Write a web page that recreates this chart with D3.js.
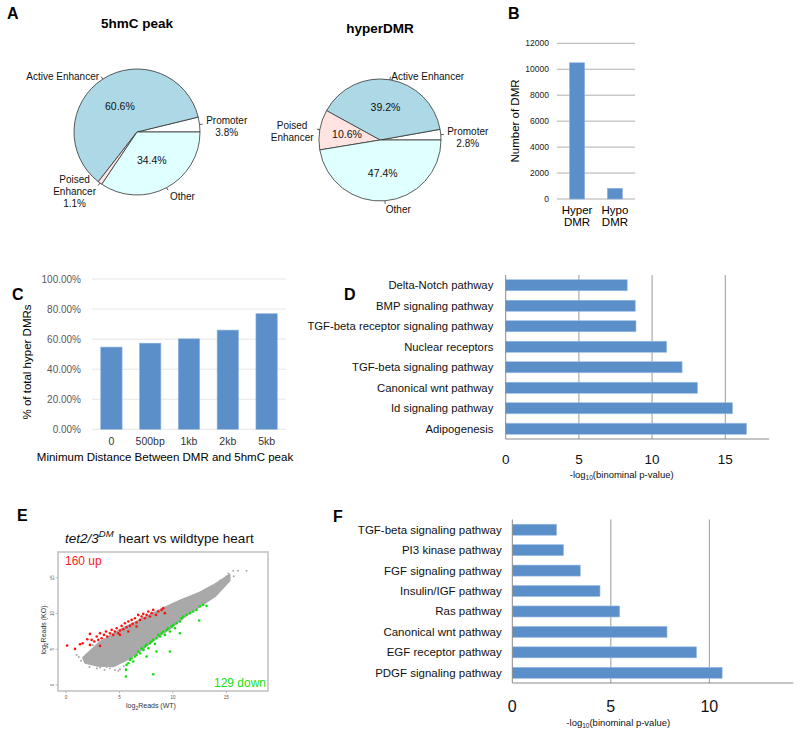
<!DOCTYPE html>
<html><head><meta charset="utf-8">
<script src="https://cdn.jsdelivr.net/npm/d3@7"></script>
<style>body{margin:0;background:#fff}svg{display:block}</style>
</head><body>
<script>
// ---------------- DATA ----------------
const pieCategories = ["Promoter","Active Enhancer","Poised Enhancer","Other"];
const pie1Values = [3.8, 60.6, 1.1, 34.4];
const pie2Values = [2.8, 39.2, 10.6, 47.4];
const pie1OuterLabels = ["Promoter\n3.8%","Active Enhancer","Poised\nEnhancer\n1.1%","Other"];
const pie2OuterLabels = ["Promoter\n2.8%","Active Enhancer","Poised\nEnhancer","Other"];
const pie1InnerLabels = ["","60.6%","","34.4%"];
const pie2InnerLabels = ["","39.2%","10.6%","47.4%"];

const bCategories = ["Hyper\nDMR","Hypo\nDMR"];
const bValues = [10500, 820];
const bTicks = [0,2000,4000,6000,8000,10000,12000];

const cCategories = ["0","500bp","1kb","2kb","5kb"];
const cValues = [54.7, 57.3, 60.2, 66.0, 76.9];
const cTicks = [0,20,40,60,80,100];

const dCategories = ["Delta-Notch pathway","BMP signaling pathway","TGF-beta receptor signaling pathway","Nuclear receptors","TGF-beta signaling pathway","Canonical wnt pathway","Id signaling pathway","Adipogenesis"];
const dValues = [8.3, 8.85, 8.9, 11.0, 12.05, 13.1, 15.5, 16.45];
const dTicks = [0,5,10,15];

const fCategories = ["TGF-beta signaling pathway","PI3 kinase pathway","FGF signaling pathway","Insulin/IGF pathway","Ras pathway","Canonical wnt pathway","EGF receptor pathway","PDGF signaling pathway"];
const fValues = [2.25, 2.6, 3.45, 4.45, 5.45, 7.85, 9.35, 10.65];
const fTicks = [0,5,10];

const eXLim = [-0.75, 18.9];
const eYLim = [-0.85, 18.6];
const eTicks = [0,5,10,15];
// dense grey cloud outline (log2 WT, log2 KO)
const eCloud = [[1.6,3.8],[3.18,6.0],[5.05,7.7],[6.92,9.1],[8.79,10.5],[10.65,11.8],[12.5,12.9],[13.8,13.95],[15.3,15.4],
  [15.3,14.6],[14.0,12.5],[12.5,11.0],[11.3,9.8],[10.0,8.2],[8.5,6.6],[6.92,4.8],[5.67,3.5],[4.42,2.6],[2.87,2.7],[1.8,3.1]];
const eGrey = [[1.87,3.18],[2.4,2.94],[3.18,2.45],[4.11,2.3],[4.58,2.1],[5.05,2.2],[3.8,2.5],[15.64,15.97],[16.1,15.97],[16.89,15.97],
  [15.0,15.17],[14.7,14.47],[13.46,13.3],[13.93,13.07],[1.4,3.4],[4.9,2.0],[14.2,14.0],[15.2,15.6],[1.2,3.9],[2.2,2.5],
  [2.9,2.3],[3.6,2.1],[5.4,2.6],[6.0,3.6],[6.5,4.2],[1.0,4.2],[2.5,5.6],[14.5,13.5],[14.9,14.1],[13.2,12.6],[12.9,13.0],
  [15.7,15.2],[14.4,14.6],[11.9,12.4],[7.3,5.0],[5.6,2.2]];
const eUp = [[0.1,5.5],[0.84,5.04],[1.31,5.7],[1.56,5.84],[1.99,6.4],[2.24,7.14],[2.4,6.3],[2.65,6.07],[2.87,6.77],[3.02,6.3],
  [3.18,7.24],[3.33,6.54],[3.55,7.0],[3.74,7.47],[3.86,6.77],[4.11,7.24],[4.27,7.7],[4.42,7.0],[4.58,7.47],[4.74,7.94],
  [4.89,7.24],[5.05,7.61],[5.2,8.26],[5.36,7.8],[5.51,8.64],[5.67,8.08],[5.83,8.87],[5.98,8.26],[6.14,9.1],[6.23,8.54],
  [6.45,9.34],[6.6,8.73],[6.76,9.8],[6.92,9.1],[7.07,9.57],[7.23,9.94],[7.38,9.34],[7.54,9.8],[7.7,10.27],[7.85,9.57],
  [8.01,10.04],[8.16,10.5],[8.41,9.8],[8.63,10.27],[8.94,10.5],[9.1,10.74],[9.25,10.04],[6.6,8.17],[5.83,7.47],[5.05,7.0],
  [3.18,5.46],[2.24,5.6]];
const eDown = [[5.61,2.1],[5.83,3.04],[5.98,3.5],[6.14,3.73],[6.29,3.27],[6.45,3.97],[6.6,4.2],[6.76,4.67],[6.92,4.43],[7.07,5.13],
  [7.23,4.9],[7.38,5.37],[7.54,5.6],[7.7,5.13],[7.85,5.84],[8.01,6.07],[8.16,6.3],[8.32,5.74],[8.47,6.54],[8.63,7.0],
  [8.79,6.77],[8.94,7.24],[9.1,7.47],[9.25,7.0],[9.41,7.7],[9.56,7.94],[9.72,7.47],[9.88,8.17],[10.03,8.4],[10.19,7.94],
  [10.34,8.64],[10.65,8.87],[10.81,9.34],[10.97,9.57],[11.28,9.8],[11.59,10.04],[11.9,10.27],[12.21,10.5],[12.52,10.97],[12.83,11.2],
  [13.15,11.06],[12.46,9.01],[10.65,7.24],[9.72,4.67],[8.16,1.49],[5.61,1.17],[5.67,2.8],[7.54,3.97],[8.47,4.67]];

// ---------------- DRAWING ----------------
const FONT = "'Liberation Sans', Arial, Helvetica, sans-serif";
const BLUE = "#5b8fca";
const pieColors = ["#ffffff","#add8e6","#ffe4e1","#e0ffff"];
const svg = d3.select("body").append("svg").attr("width",800).attr("height",732).style("font-family",FONT);
svg.append("rect").attr("width",800).attr("height",732).attr("fill","#fff");

// panel letters
[["A",7,19],["B",508,19],["C",12,300],["D",344,300],["E",17,521],["F",333,522]].forEach(p=>{
  svg.append("text").attr("x",p[1]).attr("y",p[2]).attr("font-size",16).attr("font-weight","bold").text(p[0]);
});

// ---- Pies ----
function drawPie(cx, cy, r, values, outer, inner, innerFrac, title, titleY){
  const g = svg.append("g").attr("transform",`translate(${cx},${cy})`);
  const pie = d3.pie().sort(null).value(d=>d).startAngle(Math.PI/2).endAngle(Math.PI/2-2*Math.PI);
  const arcs = pie(values);
  const arc = d3.arc().innerRadius(0).outerRadius(r);
  g.selectAll("path").data(arcs).join("path").attr("d",arc)
    .attr("fill",(d,i)=>pieColors[i]).attr("stroke","#333").attr("stroke-width",0.8);
  arcs.forEach((a,i)=>{
    const m=(a.startAngle+a.endAngle)/2, ux=Math.sin(m), uy=-Math.cos(m);
    g.append("line").attr("x1",ux*r).attr("y1",uy*r).attr("x2",ux*r*1.05).attr("y2",uy*r*1.05)
      .attr("stroke","#333").attr("stroke-width",0.8);
    const lines = outer[i].split("\n");
    const t = g.append("text").attr("font-size",10).attr("text-anchor","middle").attr("fill","#111");
    lines.forEach((ln,j)=>t.append("tspan").attr("x",0).attr("y",(j-(lines.length-1)/2)*12)
      .attr("dominant-baseline","central").text(ln));
    const w = t.node().getBBox().width;
    t.attr("transform",`translate(${ux*r*1.1+(ux>=0?1:-1)*w/2},${uy*r*1.1+3})`);
    if(inner[i]) g.append("text").attr("x",ux*r*innerFrac).attr("y",uy*r*innerFrac)
      .attr("text-anchor","middle").attr("dominant-baseline","central").attr("font-size",10.5).attr("fill","#111").text(inner[i]);
  });
  svg.append("text").attr("x",cx).attr("y",titleY).attr("text-anchor","middle")
    .attr("font-weight","bold").attr("font-size",13.5).text(title);
}
drawPie(137,132,63,pie1Values,pie1OuterLabels,pie1InnerLabels,0.5,"5hmC peak",28);
drawPie(380,140,61,pie2Values,pie2OuterLabels,pie2InnerLabels,0.55,"hyperDMR",33);

// ---- B ----
(function(){
  const x = d3.scaleBand().domain(bCategories).range([557,635]).paddingInner(0.6).paddingOuter(0.33);
  const y = d3.scaleLinear().domain([0,12000]).range([199,43.3]);
  const g = svg.append("g");
  g.selectAll("line.grid").data(bTicks).join("line").attr("x1",557).attr("x2",635)
    .attr("y1",d=>y(d)).attr("y2",d=>y(d)).attr("stroke","#a6a6a6").attr("stroke-width",0.9);
  g.selectAll("text.tick").data(bTicks).join("text").attr("x",549).attr("y",d=>y(d))
    .attr("text-anchor","end").attr("dominant-baseline","central").attr("font-size",8.5).attr("fill","#222").text(d=>d);
  g.selectAll("rect").data(bCategories).join("rect").attr("x",d=>x(d)).attr("width",x.bandwidth())
    .attr("y",(d,i)=>y(bValues[i])).attr("height",(d,i)=>y(0)-y(bValues[i])).attr("fill",BLUE)
    .attr("stroke","#8fb4e0").attr("stroke-width",0.6);
  bCategories.forEach(c=>{
    c.split("\n").forEach((ln,j)=>g.append("text").attr("x",x(c)+x.bandwidth()/2).attr("y",210+j*11.7)
      .attr("text-anchor","middle").attr("dominant-baseline","central").attr("font-size",11.5).text(ln));
  });
  g.append("text").attr("transform","translate(515,121) rotate(-90)").attr("text-anchor","middle")
    .attr("dominant-baseline","central").attr("font-size",11.5).text("Number of DMR");
})();

// ---- C ----
(function(){
  const x = d3.scaleBand().domain(cCategories).range([92,286]).paddingInner(0.45).paddingOuter(0.225);
  const y = d3.scaleLinear().domain([0,100]).range([429.3,279]);
  const g = svg.append("g");
  g.selectAll("line.grid").data(cTicks).join("line").attr("x1",92).attr("x2",286)
    .attr("y1",d=>y(d)).attr("y2",d=>y(d)).attr("stroke","#e6e6e6").attr("stroke-width",1);
  g.selectAll("text.tick").data(cTicks).join("text").attr("x",81).attr("y",d=>y(d))
    .attr("text-anchor","end").attr("dominant-baseline","central").attr("font-size",10).attr("fill","#595959")
    .text(d=>d.toFixed(2)+"%");
  g.selectAll("rect").data(cCategories).join("rect").attr("x",d=>x(d)).attr("width",x.bandwidth())
    .attr("y",(d,i)=>y(cValues[i])).attr("height",(d,i)=>y(0)-y(cValues[i])).attr("fill",BLUE)
    .attr("stroke","#8fb4e0").attr("stroke-width",0.6);
  g.selectAll("text.cat").data(cCategories).join("text").attr("x",d=>x(d)+x.bandwidth()/2).attr("y",440.7)
    .attr("text-anchor","middle").attr("dominant-baseline","central").attr("font-size",10.5).attr("fill","#333").text(d=>d);
  g.append("text").attr("x",165).attr("y",456.7).attr("text-anchor","middle").attr("dominant-baseline","central")
    .attr("font-size",11.5).text("Minimum Distance Between DMR and 5hmC peak");
  g.append("text").attr("transform","translate(27,362) rotate(-90)").attr("text-anchor","middle")
    .attr("dominant-baseline","central").attr("font-size",11.5).text("% of total hyper DMRs");
})();

// ---- D & F ----
function drawHBar(cats, vals, xMax, xr, yr, ticks, tickFs, tickY, labFs, labGap, titleX, titleY){
  const x = d3.scaleLinear().domain([0,xMax]).range(xr);
  const y = d3.scaleBand().domain(cats).range(yr).paddingInner(0.46).paddingOuter(0.23);
  const g = svg.append("g");
  g.selectAll("line.grid").data(ticks.filter(t=>t>0)).join("line").attr("x1",d=>x(d)).attr("x2",d=>x(d))
    .attr("y1",yr[0]).attr("y2",yr[1]).attr("stroke","#9a9a9a").attr("stroke-width",1);
  g.selectAll("rect").data(cats).join("rect").attr("x",x(0)).attr("y",d=>y(d))
    .attr("width",(d,i)=>x(vals[i])-x(0)).attr("height",y.bandwidth()).attr("fill",BLUE)
    .attr("stroke","#9dbfe6").attr("stroke-width",0.6);
  g.append("line").attr("x1",x(0)).attr("x2",x(0)).attr("y1",yr[0]).attr("y2",yr[1]).attr("stroke","#8a8a8a");
  g.append("line").attr("x1",xr[0]).attr("x2",xr[1]).attr("y1",yr[1]).attr("y2",yr[1]).attr("stroke","#8a8a8a");
  g.selectAll("text.cat").data(cats).join("text").attr("x",x(0)-labGap).attr("y",d=>y(d)+y.bandwidth()/2)
    .attr("text-anchor","end").attr("dominant-baseline","central").attr("font-size",labFs).attr("fill","#111").text(d=>d);
  g.selectAll("text.tick").data(ticks).join("text").attr("x",d=>x(d)).attr("y",tickY)
    .attr("text-anchor","middle").attr("dominant-baseline","central").attr("font-size",tickFs).attr("fill","#111").text(d=>d);
  const t = g.append("text").attr("x",titleX).attr("y",titleY).attr("text-anchor","middle").attr("font-size",9.5).attr("fill","#111");
  t.append("tspan").text("-log");
  t.append("tspan").attr("font-size",6.5).attr("dy",2).text("10");
  t.append("tspan").attr("dy",-2).text("(binominal p-value)");
}
drawHBar(dCategories,dValues,18,[505.7,769.2],[275,439],dTicks,13.5,459.5,11.3,12.4,621.7,477.5);
drawHBar(fCategories,fValues,14.26,[512.3,793.3],[519.5,683],fTicks,16,706.5,11.5,10.6,618.3,726);

// ---- E ----
(function(){
  const x = d3.scaleLinear().domain(eXLim).range([58,268]);
  const y = d3.scaleLinear().domain(eYLim).range([691,552]);
  const g = svg.append("g");
  g.append("path").attr("d",d3.line().x(d=>x(d[0])).y(d=>y(d[1])).curve(d3.curveLinearClosed)(eCloud))
    .attr("fill","#a9a9a9").attr("stroke","#a9a9a9").attr("stroke-width",2).attr("stroke-linejoin","round");
  g.selectAll("circle.grey").data(eGrey).join("circle").attr("cx",d=>x(d[0])).attr("cy",d=>y(d[1])).attr("r",1).attr("fill","#a9a9a9");
  g.selectAll("circle.up").data(eUp).join("circle").attr("cx",d=>x(d[0])).attr("cy",d=>y(d[1])).attr("r",1.3).attr("fill","#ff1010");
  g.selectAll("circle.down").data(eDown).join("circle").attr("cx",d=>x(d[0])).attr("cy",d=>y(d[1])).attr("r",1.3).attr("fill","#10e010");
  g.append("rect").attr("x",58).attr("y",552).attr("width",210).attr("height",139).attr("fill","none")
    .attr("stroke","#c4c4c4").attr("stroke-width",1.6);
  eTicks.forEach(t=>{
    g.append("line").attr("x1",x(t)).attr("x2",x(t)).attr("y1",691).attr("y2",693.5).attr("stroke","#888").attr("stroke-width",0.5);
    g.append("text").attr("x",x(t)).attr("y",697.5).attr("text-anchor","middle").attr("dominant-baseline","central")
      .attr("font-size",4.5).attr("fill","#555").text(t);
    g.append("line").attr("x1",58).attr("x2",55.5).attr("y1",y(t)).attr("y2",y(t)).attr("stroke","#888").attr("stroke-width",0.5);
    g.append("text").attr("transform",`translate(52,${y(t)}) rotate(-90)`).attr("text-anchor","middle")
      .attr("dominant-baseline","central").attr("font-size",4.5).attr("fill","#555").text(t);
  });
  const xl = g.append("text").attr("x",151).attr("y",708).attr("text-anchor","middle").attr("font-size",7).attr("fill","#333");
  xl.append("tspan").text("log"); xl.append("tspan").attr("font-size",5).attr("dy",1.5).text("2");
  xl.append("tspan").attr("dy",-1.5).text("Reads (WT)");
  const yl = g.append("text").attr("transform","translate(46,630) rotate(-90)").attr("text-anchor","middle").attr("font-size",7).attr("fill","#333");
  yl.append("tspan").text("log"); yl.append("tspan").attr("font-size",5).attr("dy",1.5).text("2");
  yl.append("tspan").attr("dy",-1.5).text("Reads (KO)");
  g.append("text").attr("x",65).attr("y",565).attr("font-size",12).attr("fill","#ff1a1a").text("160 up");
  g.append("text").attr("x",266).attr("y",687).attr("text-anchor","end").attr("font-size",12).attr("fill","#14e014").text("129 down");
  const tt = g.append("text").attr("x",65).attr("y",543).attr("font-size",13.5).attr("fill","#111");
  tt.append("tspan").attr("font-style","italic").text("tet2/3");
  tt.append("tspan").attr("font-style","italic").attr("font-size",9.5).attr("dy",-6).text("DM");
  tt.append("tspan").attr("dy",6).attr("dx",5).text("heart vs wildtype heart");
})();
</script>
</body></html>
